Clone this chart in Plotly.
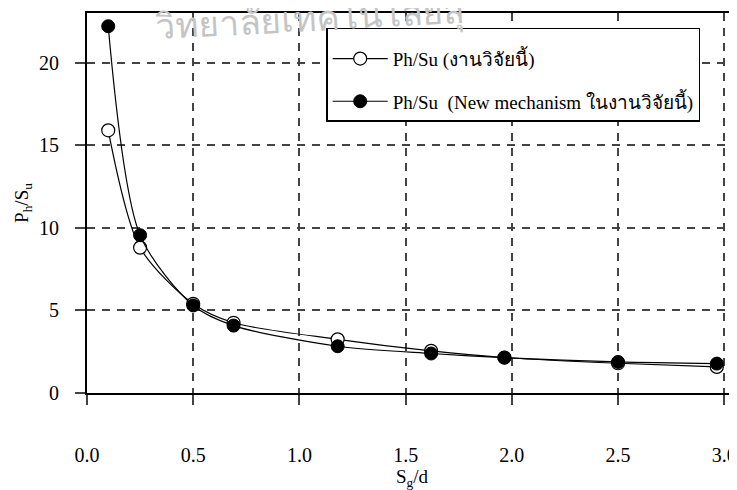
import plotly.graph_objects as go

sg_d = [0.1, 0.25, 0.5, 0.69, 1.18, 1.62, 1.965, 2.5, 2.965]
ph_su_this = [15.9, 8.8, 5.4, 4.25, 3.25, 2.55, 2.15, 1.8, 1.58]
ph_su_new = [22.2, 9.55, 5.3, 4.08, 2.83, 2.39, 2.14, 1.88, 1.78]

x_ticks = [0.0, 0.5, 1.0, 1.5, 2.0, 2.5, 3.0]
x_tick_labels = ["0.0", "0.5", "1.0", "1.5", "2.0", "2.5", "3.0"]
y_ticks = [0, 5, 10, 15, 20]

name_this = "Ph/Su (งานวิจัยนี้)"
name_new = "Ph/Su  (New mechanism ในงานวิจัยนี้)"
watermark = "วิทยาลัยเทคโนโลยีสุ"

SERIF = "Liberation Serif, Times New Roman, serif"

fig = go.Figure()
fig.add_trace(go.Scatter(
    x=sg_d, y=ph_su_this, name=name_this, mode="lines+markers", legendgroup="a",
    line=dict(color="black", width=1.2, shape="spline", smoothing=0.8),
    marker=dict(symbol="circle", size=13, color="white", line=dict(color="black", width=1.2)),
))
fig.add_trace(go.Scatter(
    x=sg_d, y=ph_su_new, name=name_new, mode="lines+markers", legendgroup="b",
    line=dict(color="black", width=1.2, shape="spline", smoothing=0.8),
    marker=dict(symbol="circle", size=13, color="black", line=dict(color="black", width=1)),
))

# page has an 8px body margin; figure sized so the plot sits where the reference has it
fig.update_layout(
    width=729, height=482,
    margin=dict(l=79, r=0, t=5, b=97),
    paper_bgcolor="white", plot_bgcolor="white",
    font=dict(family=SERIF, size=20, color="black"),
    showlegend=True,
    legend=dict(
        x=0.368, y=0.961, xanchor="left", yanchor="top",
        bgcolor="white", bordercolor="black", borderwidth=1.5,
        font=dict(family=SERIF, size=19, color="black"),
        title=dict(text=" ", font=dict(size=8)),
        tracegroupgap=15, itemwidth=55,
    ),
    annotations=[dict(
        text=watermark, xref="paper", yref="paper", x=0.343, y=0.9,
        xanchor="center", yanchor="bottom",
        showarrow=False, textangle=-3,
        font=dict(family="Noto Sans, DejaVu Sans, sans-serif", size=35, color="#c4c4c4"),
    )],
)

fig.update_xaxes(
    range=[0, 3.06], tickvals=x_ticks, ticktext=x_tick_labels,
    showline=True, linecolor="black", linewidth=1.8, mirror=True,
    ticks="outside", ticklen=10, tickcolor="#444", tickwidth=1.5,
    ticklabelstandoff=33,
    tickfont=dict(size=20),
    showgrid=True, gridcolor="#444", gridwidth=1.5, griddash="8px,7px",
    zeroline=False,
    title=dict(text="S<sub>g</sub>/d", standoff=0, font=dict(size=19)),
)
fig.update_yaxes(
    range=[0, 23], tickvals=y_ticks,
    showline=True, linecolor="black", linewidth=1.8,
    ticks="outside", ticklen=10, tickcolor="#444", tickwidth=1.5,
    ticklabelstandoff=12,
    tickfont=dict(size=20),
    showgrid=True, gridcolor="#444", gridwidth=1.5, griddash="8px,7px",
    zeroline=False,
    title=dict(text="P<sub>h</sub>/S<sub>u</sub>", standoff=5, font=dict(size=19)),
)

fig.write_html("out.html")
